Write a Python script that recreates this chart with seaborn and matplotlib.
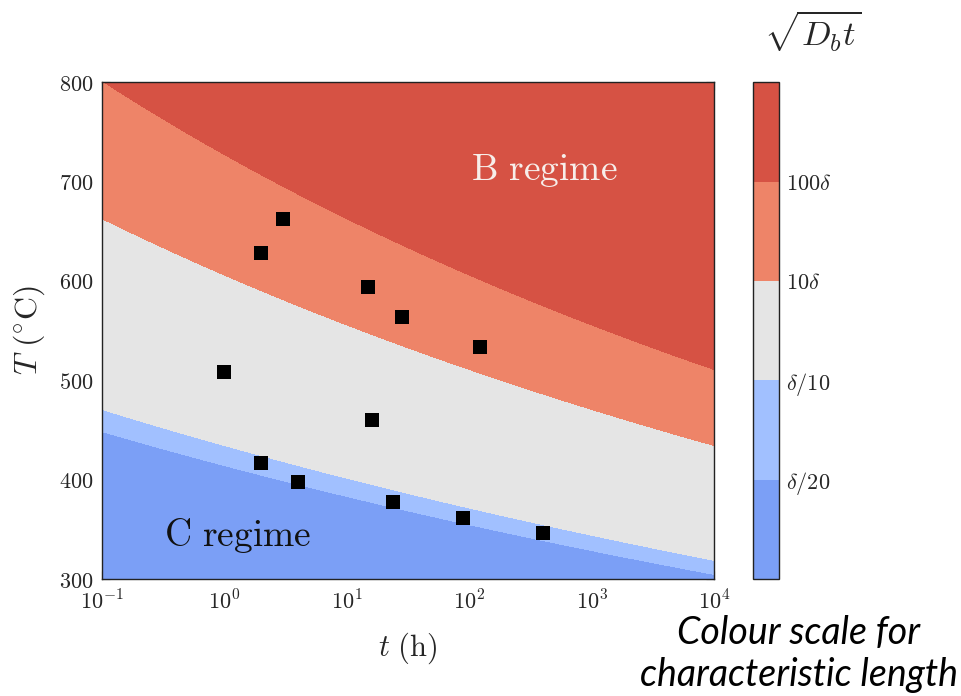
import numpy as np
import matplotlib
matplotlib.use("Agg")
import matplotlib.pyplot as plt
import matplotlib.ticker as mticker
import seaborn as sns
import pandas as pd

# Annealing experiments: time (h) and temperature (deg C)
anneal_time_h = [3, 2, 15, 28, 122, 1, 16, 2, 4, 24, 89, 400]
anneal_temp_c = [662, 628, 594, 564, 534, 508, 460, 417, 398, 378, 361, 346]

# Grain-boundary diffusion parameters
D0 = 2.2e-4          # pre-exponential factor, m^2/s
Q = 277.7e3          # activation energy, J/mol
R = 8.314            # gas constant, J/(mol K)
delta = 0.5e-9       # grain-boundary width, m

# Band edges of sqrt(D_b t) in units of delta, and their labels
band_edges = [0.05, 0.1, 10, 100]
band_labels = [r"$\delta/20$", r"$\delta/10$", r"$10\delta$", r"$100\delta$"]
band_colors = ["#7b9ff6", "#a1c0ff", "#e5e5e5", "#ee8468", "#d65244"]

x_ticks = [1e-1, 1e0, 1e1, 1e2, 1e3, 1e4]
y_ticks = [300, 400, 500, 600, 700, 800]

sns.set_theme(style="ticks")
plt.rcParams["mathtext.fontset"] = "cm"
plt.rcParams["font.family"] = ["DejaVu Serif"]

fig = plt.figure(figsize=(9.61, 6.96), dpi=100)
ax = fig.add_axes([0.1061, 0.168, 0.6369, 0.714])
cax = fig.add_axes([0.7836, 0.168, 0.027, 0.714])

# Characteristic diffusion length over the (t, T) plane
t_grid = np.logspace(-1, 4, 400)
T_grid = np.linspace(300, 800, 400)
TT, tt = np.meshgrid(T_grid, t_grid, indexing="ij")
Db = D0 * np.exp(-Q / (R * (TT + 273.15)))
L = np.sqrt(Db * tt * 3600.0) / delta
logL = np.log10(L)

levels = [-10] + list(np.log10(band_edges)) + [10]
cs = ax.contourf(tt, TT, logL, levels=levels, colors=band_colors)

df = pd.DataFrame({"t": anneal_time_h, "T": anneal_temp_c})
sns.scatterplot(data=df, x="t", y="T", ax=ax, marker="s", s=100,
                color="black", edgecolor="black", linewidth=0, zorder=5)

tick_fs = 16
ax.set_xscale("log")
ax.set_xlim(1e-1, 1e4)
ax.set_ylim(300, 800)
ax.set_xticks(x_ticks, [r"$10^{%d}$" % round(np.log10(v)) for v in x_ticks],
              fontsize=tick_fs)
ax.xaxis.set_minor_locator(mticker.LogLocator(base=10, subs=np.arange(2, 10), numticks=20))
ax.xaxis.set_minor_formatter(mticker.NullFormatter())
ax.set_yticks(y_ticks, [r"$%d$" % v for v in y_ticks], fontsize=tick_fs)
ax.tick_params(which="major", direction="in", top=True, right=True,
               length=6, width=0.8, color="#222222")
ax.tick_params(axis="x", which="major", pad=8)
ax.tick_params(axis="y", which="major", pad=6)
ax.tick_params(which="minor", direction="in", top=True, right=True,
               length=3, width=0.6, color="#222222")
for s in ax.spines.values():
    s.set_linewidth(1.0)
    s.set_color("#222222")

ax.set_xlabel(r"$t\ (\mathrm{h})$", fontsize=22, labelpad=12)
ax.set_ylabel(r"$T\ (^{\circ}\mathrm{C})$", fontsize=23, labelpad=9)

ax.text(408, 711, r"$\mathrm{B\ regime}$", color="#f7eeea", fontsize=27,
        ha="center", va="center")
ax.text(1.29, 344, r"$\mathrm{C\ regime}$", color="#111111", fontsize=27,
        ha="center", va="center")

# Colour bar with uniform bands
cb = fig.colorbar(cs, cax=cax, spacing="uniform", ticks=list(np.log10(band_edges)))
cb.set_ticklabels(band_labels, fontsize=tick_fs)
cb.outline.set_linewidth(1.0)
cb.outline.set_edgecolor("#222222")
cax.tick_params(direction="in", length=5, width=0.8, color="#222222", pad=5)
fig.text(0.846, 0.955, r"$\sqrt{D_b t}$", fontsize=25, ha="center", va="center")

fig.text(0.8314, 0.0603, "Colour scale for\ncharacteristic length",
         family=["Lato", "DejaVu Sans"], style="italic", fontsize=27,
         ha="center", va="center", linespacing=1.22, color="black")

fig.savefig("out.png", dpi=100)
